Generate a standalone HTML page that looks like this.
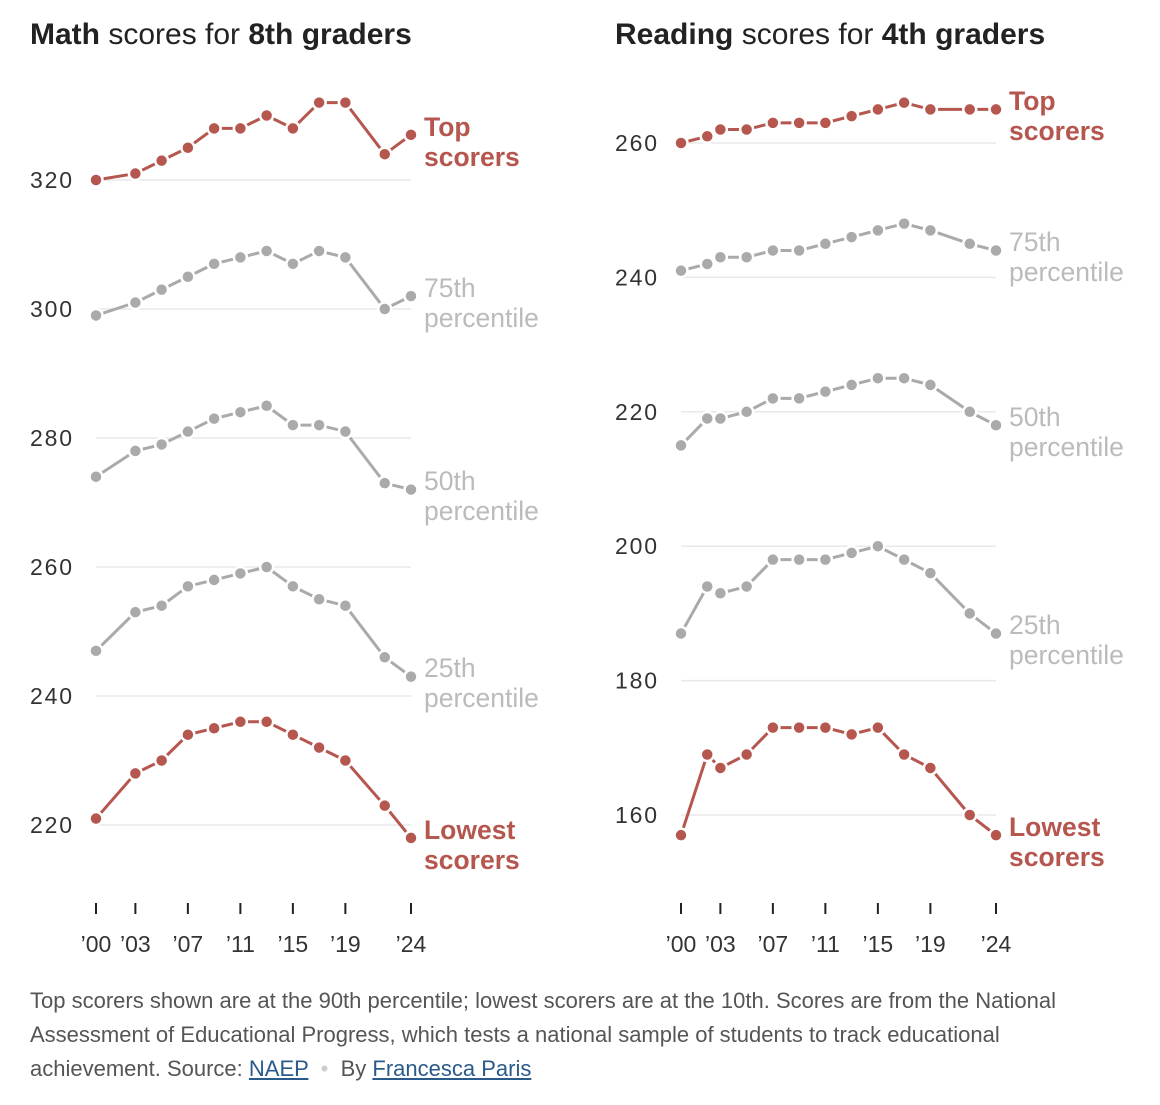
<!DOCTYPE html>
<html><head><meta charset="utf-8">
<style>
body{margin:0;background:#fff;width:1160px;height:1105px;overflow:hidden;font-family:"Liberation Sans",sans-serif}
svg text{font-family:"Liberation Sans",sans-serif}
.foot{position:absolute;left:30px;top:984px;width:1070px;font-size:22px;line-height:34px;color:#555}
.foot a{color:#2a5a8a;text-decoration:underline}
</style></head><body>
<svg id="chart" width="1160" height="980" style="position:absolute;left:0;top:0">
<text x="30" y="44" font-size="30" fill="#222"><tspan font-weight="bold">Math</tspan> scores for <tspan font-weight="bold">8th graders</tspan></text>
<text x="615" y="44" font-size="30" fill="#222"><tspan font-weight="bold">Reading</tspan> scores for <tspan font-weight="bold">4th graders</tspan></text>
</svg>
<div class="foot">Top scorers shown are at the 90th percentile; lowest scorers are at the 10th. Scores are from the National Assessment of Educational Progress, which tests a national sample of students to track educational achievement. Source: <a>NAEP</a> <span style="color:#ccc">&nbsp;•&nbsp;</span> By <a>Francesca Paris</a></div>
<script>
const mathYears=[2000,2003,2005,2007,2009,2011,2013,2015,2017,2019,2022,2024];
const mathTop=[320,321,323,325,328,328,330,328,332,332,324,327];
const math75=[299,301,303,305,307,308,309,307,309,308,300,302];
const math50=[274,278,279,281,283,284,285,282,282,281,273,272];
const math25=[247,253,254,257,258,259,260,257,255,254,246,243];
const mathLow=[221,228,230,234,235,236,236,234,232,230,223,218];
const mathTicks=[320,300,280,260,240,220];
const readYears=[2000,2002,2003,2005,2007,2009,2011,2013,2015,2017,2019,2022,2024];
const readTop=[260,261,262,262,263,263,263,264,265,266,265,265,265];
const read75=[241,242,243,243,244,244,245,246,247,248,247,245,244];
const read50=[215,219,219,220,222,222,223,224,225,225,224,220,218];
const read25=[187,194,193,194,198,198,198,199,200,198,196,190,187];
const readLow=[157,169,167,169,173,173,173,172,173,169,167,160,157];
const readTicks=[260,240,220,200,180,160];
const xTickYears=[2000,2003,2007,2011,2015,2019,2024];
const xTickLabels=["’00","’03","’07","’11","’15","’19","’24"];
const seriesNames=[["Top","scorers"],["75th","percentile"],["50th","percentile"],["25th","percentile"],["Lowest","scorers"]];

const svg=document.getElementById('chart');
const NS='http://www.w3.org/2000/svg';
const RED='#b5574f',GRAY='#aaaaaa';
function mk(t,a,p){const e=document.createElementNS(NS,t);for(const k in a)e.setAttribute(k,a[k]);(p||svg).appendChild(e);return e;}

function panel(cfg){
  const xs=y=>cfg.x0+(y-2000)*(cfg.x1-cfg.x0)/24;
  const ys=v=>cfg.y0+(cfg.v0-v)*cfg.ppu;
  const g=mk('g',{});
  
  
  cfg.ticks.forEach(t=>{
    const l=mk('line',{x1:cfg.x0,x2:cfg.x1,y1:ys(t),y2:ys(t),stroke:'#e8e8e8','stroke-width':1.5},g);
    
    
    const tx=mk('text',{x:cfg.lx,y:ys(t)+8,'font-size':23,fill:'#333',textLength:42},g);
    tx.textContent=t;
    
    
  });
  xTickYears.forEach((yr,i)=>{
    const l=mk('line',{x1:xs(yr),x2:xs(yr),y1:903,y2:914,stroke:'#222','stroke-width':2},g);
    
    
    const tx=mk('text',{x:xs(yr),y:952,'font-size':23,fill:'#333','text-anchor':'middle'},g);
    tx.textContent=xTickLabels[i];
    
    
  });
  cfg.series.forEach((s,si)=>{
    const col=(si==0||si==4)?RED:GRAY;
    const pts=s.map((v,i)=>xs(cfg.years[i])+','+ys(v)).join(' ');
    const pl=mk('polyline',{points:pts,fill:'none',stroke:col,'stroke-width':3},g);
    
    
    s.forEach((v,i)=>{
      const c=mk('circle',{cx:xs(cfg.years[i]),cy:ys(v),r:6.5,fill:col,stroke:'#fff','stroke-width':2.5},g);
      
      
    });
    const ly=cfg.labelY[si];
    const lab=mk('text',{x:cfg.x1+13,y:ly,'font-size':26.5,fill:(si==0||si==4)?RED:'#bbbbbb','font-weight':(si==0||si==4)?'bold':'normal'},g);
    
    
    mk('tspan',{x:cfg.x1+13,dy:0},lab).textContent=seriesNames[si][0];
    mk('tspan',{x:cfg.x1+13,dy:30},lab).textContent=seriesNames[si][1];
  });
}
panel({name:'math',x0:96,x1:411,y0:180,v0:320,ppu:6.45,lx:30,ticks:mathTicks,years:mathYears,
  series:[mathTop,math75,math50,math25,mathLow],labelY:[136,297,490,677,839]});
panel({name:'reading',x0:681,x1:996,y0:143,v0:260,ppu:6.72,lx:615,ticks:readTicks,years:readYears,
  series:[readTop,read75,read50,read25,readLow],labelY:[110,251,426,634,836]});
</script>
</body></html>
